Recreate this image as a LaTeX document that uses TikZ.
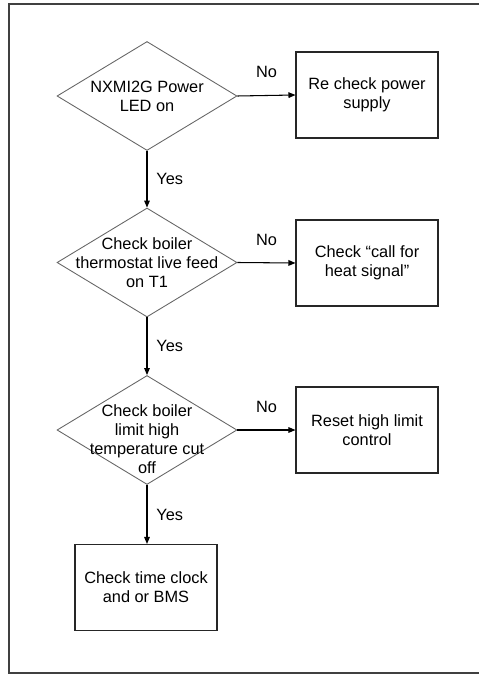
\documentclass[tikz,border=0pt]{standalone}
\usepackage{fontspec}
\setmainfont{Liberation Sans}
\usetikzlibrary{shapes.geometric,arrows.meta}

\tikzset{
  decision/.style={diamond, draw=black!60, line width=0.5pt, inner sep=0pt,
    minimum width=3.6cm, minimum height=2.18cm},
  qtext/.style={align=center, inner sep=0pt, font=\fontsize{9.3}{10.8}\selectfont},
  action/.style={rectangle, draw=black!85, line width=0.6pt, align=center,
    minimum width=2.84cm, minimum height=1.72cm, font=\fontsize{9.3}{10.8}\selectfont},
  flow/.style={-{Triangle[length=4pt,width=3.2pt]}, line width=0.6pt},
  answer/.style={font=\fontsize{9.3}{10.8}\selectfont}
}

\begin{document}
\begin{tikzpicture}[x=0.02cm,y=-0.02cm]
  \useasboundingbox (0,0) rectangle (479,675);
  % draw the frame
  \draw[line width=0.9pt, black!75] (479,4) -- (9,4) -- (9,673) -- (479,673);

  % the questions
  \node[decision] (power) at (147,96) {};
  \node[qtext] (powertxt) at (power) {NXMI2G Power\\LED on};
  \node[decision] (stat) at (147,262.5) {};
  \node[qtext] (stattxt) at (stat) {Check boiler\\thermostat live feed\\on T1};
  \node[decision] (limit) at (147,430) {};
  \node[qtext] (limittxt) at (147,439) {Check boiler\\limit high\\temperature cut\\off};

  % the actions
  \node[action] (recheck) at (367,95) {Re check power\\supply};
  \node[action] (callheat) at (367,263) {Check “call for\\heat signal"};
  \node[action] (reset) at (367,430) {Reset high limit\\control};
  \node[action] (clock) at (146,587.5) {Check time clock\\and or BMS};

  % the No branches
  \draw[flow] (power.east) -- node[answer, above=0.22cm] {No} (recheck.west);
  \draw[flow] (stat.east) -- node[answer, above=0.22cm] {No} (callheat.west);
  \draw[flow] (limit.east) -- node[answer, above=0.22cm] {No} (reset.west);

  % the Yes branches
  \draw[flow] (power.south) -- node[answer, right=0.06cm] {Yes} (stat.north);
  \draw[flow] (stat.south) -- node[answer, right=0.06cm] {Yes} (limit.north);
  \draw[flow] (limit.south) -- node[answer, right=0.06cm] {Yes} (power.south |- clock.north);
\end{tikzpicture}
\end{document}
